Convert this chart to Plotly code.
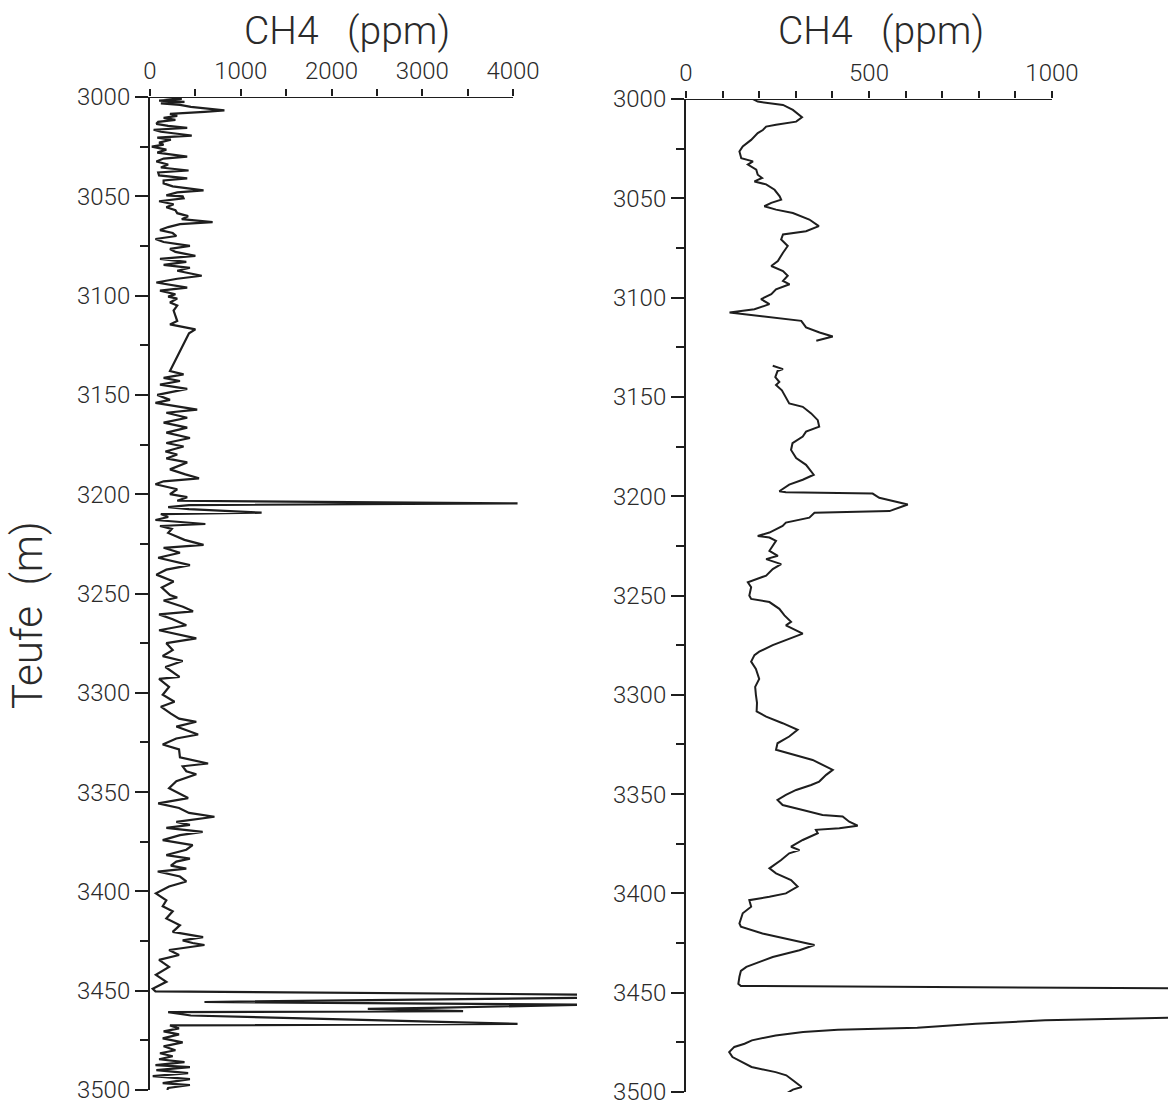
import plotly.graph_objects as go

# ---------------- data ----------------
left_depth = [
    3000.0, 3001.0, 3001.8, 3002.5, 3003.2, 3004.0, 3005.0, 3006.7, 3007.5, 3008.5,
    3009.5, 3010.5, 3011.5, 3012.5, 3013.5, 3014.5, 3015.5, 3016.5, 3017.5, 3018.5,
    3019.4, 3020.5, 3021.5, 3023.0, 3024.0, 3025.0, 3026.5, 3028.0, 3030.0, 3031.0,
    3032.5, 3034.0, 3035.5, 3037.0, 3038.0, 3039.5, 3041.0, 3042.0, 3043.5, 3045.0,
    3047.0, 3048.0, 3049.5, 3050.0, 3051.0, 3052.5, 3054.0, 3055.5, 3057.0, 3058.5,
    3060.0, 3061.5, 3063.0, 3064.0, 3065.5, 3067.0, 3068.5, 3070.0, 3071.5, 3073.0,
    3075.0, 3076.5, 3078.0, 3080.0, 3081.5, 3083.0, 3084.5, 3086.0, 3087.5, 3090.0,
    3091.5, 3093.4, 3094.5, 3096.0, 3097.5, 3099.3, 3100.5, 3101.5, 3103.5, 3105.0,
    3107.5, 3110.0, 3112.8, 3114.5, 3117.0, 3119.0, 3138.0, 3139.7, 3141.4, 3143.0,
    3144.8, 3147.0, 3150.0, 3152.5, 3154.0, 3157.4, 3159.0, 3161.5, 3164.0, 3166.5,
    3169.0, 3171.7, 3174.2, 3176.0, 3178.5, 3180.0, 3182.0, 3184.0, 3187.5, 3190.0,
    3192.0, 3193.5, 3195.0, 3197.5, 3200.0, 3201.5, 3203.3, 3204.6, 3205.5, 3206.5,
    3207.5, 3209.3, 3210.0, 3211.5, 3213.0, 3215.0, 3216.0, 3217.5, 3219.5, 3221.0,
    3223.0, 3225.5, 3227.0, 3229.5, 3232.0, 3235.7, 3238.0, 3240.5, 3244.0, 3247.0,
    3250.8, 3252.0, 3253.5, 3256.7, 3259.0, 3260.5, 3263.0, 3266.0, 3268.5, 3272.6,
    3275.0, 3278.5, 3281.5, 3284.0, 3287.0, 3292.0, 3293.0, 3297.0, 3301.0, 3304.5,
    3307.0, 3310.5, 3313.0, 3314.6, 3317.0, 3321.0, 3323.0, 3326.0, 3328.5, 3332.5,
    3335.6, 3337.0, 3339.5, 3341.0, 3344.5, 3348.0, 3350.5, 3353.0, 3355.7, 3358.0,
    3360.5, 3362.4, 3365.0, 3366.5, 3368.0, 3370.0, 3371.7, 3374.2, 3376.7, 3379.0,
    3381.7, 3383.5, 3385.0, 3387.0, 3388.5, 3390.0, 3392.5, 3395.0, 3397.5, 3401.0,
    3404.5, 3407.5, 3410.0, 3413.6, 3417.0, 3420.4, 3423.0, 3424.7, 3426.0, 3427.0,
    3429.5, 3432.0, 3434.5, 3438.0, 3442.0, 3445.5, 3449.0, 3450.3, 3452.0, 3453.5,
    3455.7, 3457.0, 3458.6, 3459.2, 3460.3, 3460.8, 3462.5, 3466.7, 3467.5, 3469.0,
    3470.5, 3472.0, 3474.0, 3476.0, 3478.0, 3480.0, 3481.5, 3483.0, 3484.5, 3486.0,
    3487.5, 3488.5, 3490.0, 3491.5, 3493.0, 3494.5, 3496.5, 3497.5, 3499.0, 3500.0,
]
left_ch4 = [
    150, 350, 100, 380, 120, 330, 450, 820, 600, 220,
    300, 150, 280, 90, 70, 200, 410, 40, 120, 300,
    460, 80, 230, 100, 150, 20, 180, 80, 410, 150,
    70, 200, 120, 425, 90, 100, 410, 150, 150, 250,
    590, 300, 180, 360, 370, 100, 260, 180, 280, 300,
    420, 350, 690, 330, 200, 110, 250, 290, 60, 150,
    440, 220, 280, 500, 110, 400, 150, 440, 300, 570,
    300, 70, 200, 410, 110, 280, 200, 300, 220, 300,
    260, 280, 300, 220, 500, 430, 220, 370, 150, 330,
    110, 410, 80, 220, 60, 520, 180, 410, 150, 410,
    180, 440, 180, 370, 170, 300, 180, 410, 220, 390,
    540, 150, 60, 300, 220, 410, 300, 4050, 430, 200,
    430, 1230, 120, 200, 60, 610, 110, 240, 200, 280,
    380, 590, 150, 330, 90, 440, 180, 70, 260, 130,
    220, 300, 150, 363, 474, 100, 250, 400, 100, 510,
    180, 250, 140, 360, 170, 325, 100, 210, 140, 270,
    120, 230, 320, 510, 290, 530, 290, 140, 320, 330,
    640, 360, 400, 510, 290, 210, 320, 420, 90, 320,
    430, 710, 290, 440, 180, 580, 330, 140, 470, 400,
    180, 440, 290, 230, 400, 85, 330, 400, 210, 65,
    180, 140, 250, 180, 330, 250, 585, 360, 470, 600,
    210, 320, 100, 210, 65, 180, 30, 60, 4900, 4900,
    600, 4900, 3100, 2400, 3450, 200, 450, 4050, 220, 320,
    150, 320, 140, 360, 150, 280, 110, 250, 100, 380,
    60, 440, 70, 420, 30, 440, 140, 440, 200, 190,
]

right_depth = [
    3000.0, 3001.3, 3003.0, 3005.5, 3009.2, 3011.4, 3013.0, 3013.9, 3015.6, 3017.2,
    3020.6, 3023.9, 3026.4, 3029.8, 3031.4, 3033.0, 3035.6, 3038.1, 3039.8, 3041.5,
    3043.0, 3045.7, 3049.0, 3050.7, 3052.3, 3054.0, 3055.7, 3057.4, 3060.7, 3064.0,
    3066.6, 3068.2, 3070.7, 3074.0, 3077.4, 3081.6, 3084.1, 3086.6, 3089.0, 3091.6,
    3093.3, 3095.8, 3098.3, 3100.8, 3103.3, 3105.9, 3107.5, 3108.4, 3110.0, 3111.7,
    3115.0, 3117.6, 3119.6, 3121.7, 3128.0,
    3134.3, 3136.0, 3137.0, 3140.0, 3142.5, 3144.0, 3146.7, 3150.0, 3153.3, 3155.0,
    3158.3, 3161.7, 3165.0, 3167.5, 3170.0, 3173.3, 3176.7, 3180.8, 3184.2, 3189.2,
    3191.7, 3194.2, 3197.5, 3198.0, 3198.7, 3200.8, 3204.2, 3207.5, 3208.3, 3210.8,
    3213.3, 3215.0, 3218.3, 3220.0, 3220.8, 3222.5, 3227.5, 3230.0, 3231.7, 3234.2,
    3236.7, 3240.0, 3243.3, 3245.8, 3250.0, 3251.7, 3253.3, 3256.7, 3260.0, 3263.3,
    3265.0, 3269.2, 3271.7, 3275.0, 3278.3, 3280.0, 3283.3, 3287.0, 3292.0, 3296.0,
    3300.0, 3304.0, 3308.4, 3311.0, 3314.3, 3317.6, 3321.0, 3324.4, 3327.7, 3329.4,
    3332.8, 3337.8, 3340.3, 3343.7, 3345.4, 3347.9, 3350.4, 3352.9, 3355.5, 3358.0,
    3360.5, 3361.3, 3363.9, 3365.9, 3367.2, 3368.0, 3369.7, 3373.1, 3376.5, 3378.2,
    3379.8, 3383.2, 3387.4, 3389.9, 3393.3, 3396.6, 3400.0, 3401.7, 3403.4, 3406.7,
    3410.0, 3415.1, 3416.8, 3420.2, 3423.5, 3426.0, 3428.6, 3432.0, 3437.0, 3439.0,
    3442.0, 3445.5, 3446.6, 3447.8, 3461.0, 3462.6, 3463.9, 3465.6, 3467.6, 3468.6,
    3469.8, 3471.5, 3474.0, 3475.7, 3477.3, 3479.9, 3482.4, 3484.9, 3487.4, 3490.0,
    3491.6, 3494.1, 3497.5, 3498.8, 3500.8,
]
right_ch4 = [
    183, 196, 265, 292, 317, 301, 246, 219, 210, 196,
    178, 155, 146, 151, 183, 169, 192, 196, 208, 187,
    219, 242, 256, 260, 233, 214, 246, 292, 337, 363,
    328, 265, 260, 278, 265, 251, 233, 265, 278, 265,
    283, 246, 233, 205, 228, 187, 119, 164, 246, 315,
    328, 365, 401, 356, None,
    237, 265, 250, 244, 255, 246, 262, 273, 282, 319,
    342, 360, 364, 328, 319, 291, 287, 301, 328, 349,
    319, 282, 255, 273, 510, 528, 606, 556, 351, 337,
    273, 264, 228, 196, 228, 246, 228, 251, 219, 260,
    237, 219, 169, 178, 173, 178, 228, 255, 269, 287,
    273, 319, 282, 237, 200, 187, 178, 191, 200, 189,
    191, 194, 193, 219, 264, 305, 282, 250, 246, 282,
    346, 401, 383, 364, 342, 301, 273, 250, 264, 319,
    373, 428, 446, 469, 419, 355, 360, 319, 287, 310,
    282, 260, 228, 246, 287, 305, 273, 228, 173, 178,
    155, 146, 150, 209, 291, 351, 310, 237, 165, 150,
    146, 143, 150, 1400, 1600, 1320, 981, 792, 632, 415,
    320, 245, 180, 160, 132, 118, 127, 151, 179, 245,
    274, 292, 316, 292, 274,
]

left_major = [0, 1000, 2000, 3000, 4000]
left_minor = [500, 1500, 2500, 3500]
right_major = [0, 500, 1000]
right_minor = [100, 200, 300, 400, 600, 700, 800, 900]
depth_major = list(range(3000, 3501, 50))
depth_minor = list(range(3025, 3500, 50))

x_title = "CH4\u00a0\u00a0\u00a0(ppm)"
y_title = "Teufe\u00a0\u00a0(m)"

# ---------------- figure ----------------
W, H = 1168, 1108
INK = "#1e1e1e"
TXT = "#2a2a2a"
FONT = "Roboto"

fig = go.Figure()
fig.add_trace(go.Scatter(x=left_ch4, y=left_depth, mode="lines",
                         line=dict(color=INK, width=2.2), xaxis="x", yaxis="y",
                         showlegend=False, connectgaps=False))
fig.add_trace(go.Scatter(x=right_ch4, y=right_depth, mode="lines",
                         line=dict(color=INK, width=2), xaxis="x2", yaxis="y2",
                         showlegend=False, connectgaps=False))

tickfont = dict(family=FONT, size=24, color=TXT, weight=300)

def xax(domain, rng, major, minor, anchor):
    return dict(domain=domain, range=rng, side="top", anchor=anchor, automargin=False,
                tickmode="array", tickvals=major, ticktext=[str(v) for v in major],
                ticks="outside", ticklen=7, tickwidth=1.5, tickcolor=INK,
                minor=dict(tickvals=minor, ticks="outside", ticklen=7,
                           tickwidth=1.5, tickcolor=INK, showgrid=False),
                showline=False, showgrid=False, zeroline=False,
                tickfont=tickfont, fixedrange=True)

def yax(domain, anchor):
    return dict(domain=domain, range=[3500, 3000], anchor=anchor, automargin=False,
                tickmode="array", tickvals=depth_major,
                ticktext=[str(v) for v in depth_major],
                ticks="outside", ticklen=13, tickwidth=1.5, tickcolor=INK,
                minor=dict(tickvals=depth_minor, ticks="outside", ticklen=8,
                           tickwidth=1.5, tickcolor=INK, showgrid=False),
                showline=True, linewidth=2, linecolor=INK,
                showgrid=False, zeroline=False, tickfont=tickfont, fixedrange=True)

fig.update_layout(
    width=W, height=H, margin=dict(l=0, r=0, t=0, b=0, autoexpand=False),
    paper_bgcolor="white", plot_bgcolor="white",
    xaxis=xax([150 / W, 577 / W], [0, 4705], left_major, left_minor, "y"),
    yaxis=yax([1 - 1090 / H, 1 - 97 / H], "x"),
    xaxis2=xax([686 / W, 1.0], [0, 1317], right_major, right_minor, "y2"),
    yaxis2=yax([1 - 1092 / H, 1 - 99 / H], "x2"),
    showlegend=False,
)

# top axis lines running from 0 to the last labelled tick
fig.add_shape(type="line", xref="x", yref="y", x0=left_major[0], x1=left_major[-1],
              y0=depth_major[0], y1=depth_major[0], line=dict(color=INK, width=2))
fig.add_shape(type="line", xref="x2", yref="y2", x0=right_major[0], x1=right_major[-1],
              y0=depth_major[0], y1=depth_major[0], line=dict(color=INK, width=2))

title_font = dict(family=FONT, size=39, color=TXT, weight=300)
fig.add_annotation(text=x_title, xref="paper", yref="paper", x=347 / W, y=1 - 31 / H,
                   showarrow=False, font=title_font, xanchor="center", yanchor="middle")
fig.add_annotation(text=x_title, xref="paper", yref="paper", x=881 / W, y=1 - 31 / H,
                   showarrow=False, font=title_font, xanchor="center", yanchor="middle")
fig.add_annotation(text=y_title, xref="paper", yref="paper", x=27 / W, y=1 - 615 / H,
                   showarrow=False, font=dict(family=FONT, size=42, color=TXT, weight=300),
                   textangle=-90, xanchor="center", yanchor="middle")

fig.write_html("out.html")
